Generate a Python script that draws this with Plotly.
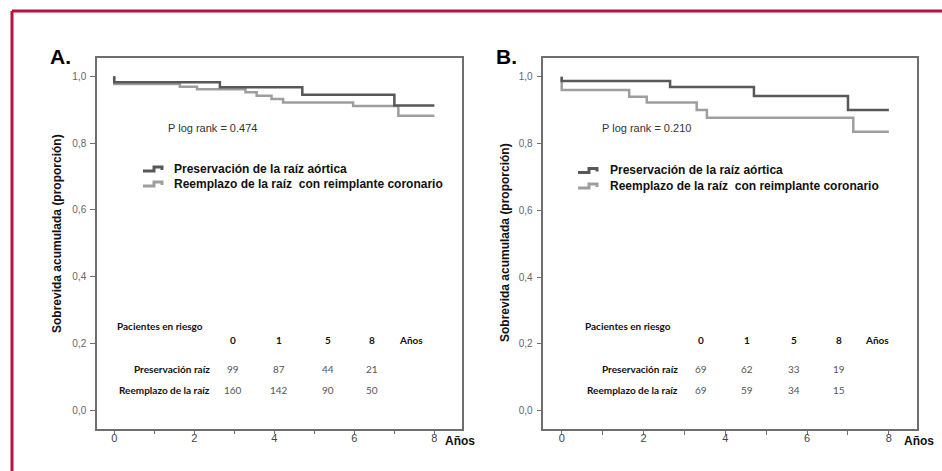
import plotly.graph_objects as go

W, H = 942, 471

# ---------------- data ----------------
# Panel A
a_pres_t = [0, 0, 2.64, 4.70, 7.00, 8.00]
a_pres_s = [1.0, 0.982, 0.967, 0.945, 0.913, 0.913]
a_reem_t = [0, 0, 1.64, 2.07, 3.28, 3.56, 3.93, 4.22, 5.97, 7.10, 8.00]
a_reem_s = [1.0, 0.977, 0.969, 0.961, 0.952, 0.942, 0.932, 0.922, 0.911, 0.882, 0.882]
a_plog = "P log rank = 0.474"
a_risk_pres = ["99", "87", "44", "21"]
a_risk_reem = ["160", "142", "90", "50"]

# Panel B
b_pres_t = [0, 0, 2.65, 4.70, 7.00, 8.00]
b_pres_s = [1.0, 0.987, 0.969, 0.942, 0.900, 0.900]
b_reem_t = [0, 0, 1.65, 2.08, 3.30, 3.55, 7.13, 8.00]
b_reem_s = [1.0, 0.960, 0.940, 0.923, 0.900, 0.877, 0.835, 0.835]
b_plog = "P log rank = 0.210"
b_risk_pres = ["69", "62", "33", "19"]
b_risk_reem = ["69", "59", "34", "15"]

risk_header = ["0", "1", "5", "8"]
series_names = ["Preservación de la raíz aórtica", "Reemplazo de la raíz  con reimplante coronario"]
row_names = ["Preservación raíz", "Reemplazo de la raíz"]
x_tickvals = [0, 1, 2, 3, 4, 5, 6, 7, 8]
x_ticktext = ["0", "", "2", "", "4", "", "6", "", "8"]
y_tickvals = [0.0, 0.2, 0.4, 0.6, 0.8, 1.0]

DARK = "#585858"
LIGHT = "#9e9e9e"
FRAME = "#6e6e6e"
RED = "#b8123e"
ARIAL = "Liberation Sans, Arial, sans-serif"
CAL = "Lato, Carlito, Calibri, sans-serif"


def px(x):
    return x / W


def py(y):
    return 1 - y / H


fig = go.Figure()

panels = [
    dict(xa="x", ya="y", reem=(a_reem_t, a_reem_s), pres=(a_pres_t, a_pres_s)),
    dict(xa="x2", ya="y2", reem=(b_reem_t, b_reem_s), pres=(b_pres_t, b_pres_s)),
]
for p in panels:
    fig.add_trace(go.Scatter(x=p["reem"][0], y=p["reem"][1], mode="lines", line_shape="hv",
                             line=dict(color=LIGHT, width=2.5), xaxis=p["xa"], yaxis=p["ya"],
                             name=series_names[1], showlegend=False, hoverinfo="skip"))
    fig.add_trace(go.Scatter(x=p["pres"][0], y=p["pres"][1], mode="lines", line_shape="hv",
                             line=dict(color=DARK, width=2.5), xaxis=p["xa"], yaxis=p["ya"],
                             name=series_names[0], showlegend=False, hoverinfo="skip"))

axis_common = dict(showline=True, linecolor=FRAME, linewidth=1.5, mirror=True, showgrid=False,
                   zeroline=False, ticks="outside", tickwidth=1.2, tickcolor=FRAME)

xfont = dict(family=ARIAL, size=11, color="#444")
yfont = dict(family=ARIAL, size=10, color="#666")

fig.update_layout(
    width=W, height=H,
    margin=dict(l=0, r=0, t=0, b=0),
    paper_bgcolor="white", plot_bgcolor="white",
    separators=",.",
    showlegend=False,
    xaxis=dict(domain=[px(97), px(462)], range=[-0.43, 8.69], anchor="y", ticklen=4,
               ticklabelstandoff=-6, tickvals=x_tickvals, ticktext=x_ticktext,
               tickfont=xfont, **axis_common),
    yaxis=dict(domain=[py(428.7), py(58)], range=[-0.056, 1.055], anchor="x", ticklen=5,
               ticklabelstandoff=2, tickvals=y_tickvals, tickformat=".1f",
               tickfont=yfont, **axis_common),
    xaxis2=dict(domain=[px(543.3), px(916.7)], range=[-0.45, 8.68], anchor="y2", ticklen=4,
                ticklabelstandoff=-6, tickvals=x_tickvals, ticktext=x_ticktext,
                tickfont=xfont, **axis_common),
    yaxis2=dict(domain=[py(429), py(58)], range=[-0.055, 1.056], anchor="x2", ticklen=5,
                ticklabelstandoff=2, tickvals=y_tickvals, tickformat=".1f",
                tickfont=yfont, **axis_common),
)

ann = []
shapes = []

# red frame (top and left edges of the cropped figure box)
shapes.append(dict(type="line", xref="paper", yref="paper", x0=px(12), x1=1.01, y0=py(11), y1=py(11),
                   line=dict(color=RED, width=3)))
shapes.append(dict(type="line", xref="paper", yref="paper", x0=px(12), x1=px(12), y0=py(11), y1=-0.01,
                   line=dict(color=RED, width=3)))


def txt(x, y, text, size, bold=False, color="#111", xanchor="left", family=ARIAL, angle=0):
    ann.append(dict(xref="paper", yref="paper", x=px(x), y=py(y), text=("<b>%s</b>" % text) if bold else text,
                    showarrow=False, xanchor=xanchor, yanchor="middle", textangle=angle,
                    font=dict(family=family, size=size, color=color)))


panel_cfg = [
    dict(label="A.", lx=48, ytitle_x=57, ytitle_y=234, plog=a_plog, plog_x=166, plog_y=127.5,
         leg_icon_x=143, leg_text_x=172, leg_y=[168.5, 183.5], anos_x=443,
         risk_title_x=115, risk_cols=[233.3, 279.3, 327.7, 372.3], risk_anos_x=397, risk_label_right=212,
         pres=a_risk_pres, reem=a_risk_reem),
    dict(label="B.", lx=494, ytitle_x=505, ytitle_y=243, plog=b_plog, plog_x=600, plog_y=127.5,
         leg_icon_x=578, leg_text_x=608, leg_y=[170, 185.5], anos_x=902,
         risk_title_x=583, risk_cols=[700.7, 746.7, 794, 839.3], risk_anos_x=863, risk_label_right=680,
         pres=b_risk_pres, reem=b_risk_reem),
]

for c in panel_cfg:
    txt(c["lx"], 57, c["label"], 21, bold=True, color="#000")
    txt(c["ytitle_x"], c["ytitle_y"], "Sobrevida acumulada (proporción)", 12, bold=True,
        color="#111", xanchor="center", angle=-90)
    txt(c["plog_x"], c["plog_y"], c["plog"], 11, color="#333")
    # legend
    for i, (name, col) in enumerate(zip(series_names, [DARK, LIGHT])):
        yl = c["leg_y"][i] + 2.5
        yh = c["leg_y"][i] - 1.5
        x0 = c["leg_icon_x"]
        path = "M %f,%f L %f,%f L %f,%f L %f,%f L %f,%f" % (
            px(x0), py(yl), px(x0 + 11), py(yl), px(x0 + 11), py(yh), px(x0 + 19), py(yh),
            px(x0 + 19), py(yh + 3))
        shapes.append(dict(type="path", xref="paper", yref="paper", path=path,
                           line=dict(color=col, width=3)))
        txt(c["leg_text_x"], c["leg_y"][i], name, 12, bold=True, color="#111")
    # x axis unit
    txt(c["anos_x"], 441, "Años", 12, bold=True, color="#111")
    # at-risk table
    txt(c["risk_title_x"], 326, "Pacientes en riesgo", 10, bold=True, color="#111", family=CAL)
    for j, h in enumerate(risk_header):
        txt(c["risk_cols"][j], 339.5, h, 10, bold=True, color="#111", xanchor="center", family=CAL)
    txt(c["risk_anos_x"], 339.5, "Años", 10, bold=True, color="#111", family=CAL)
    txt(c["risk_label_right"], 368.5, row_names[0], 10, bold=True, color="#111", xanchor="right", family=CAL)
    txt(c["risk_label_right"], 390, row_names[1], 10, bold=True, color="#111", xanchor="right", family=CAL)
    for j in range(4):
        txt(c["risk_cols"][j], 368.5, c["pres"][j], 10, color="#555", xanchor="center", family=CAL)
        txt(c["risk_cols"][j], 390, c["reem"][j], 10, color="#555", xanchor="center", family=CAL)

fig.update_layout(annotations=ann, shapes=shapes)
fig.write_html("out.html", config={"displayModeBar": False},
               post_script="document.body.style.margin='0';")
